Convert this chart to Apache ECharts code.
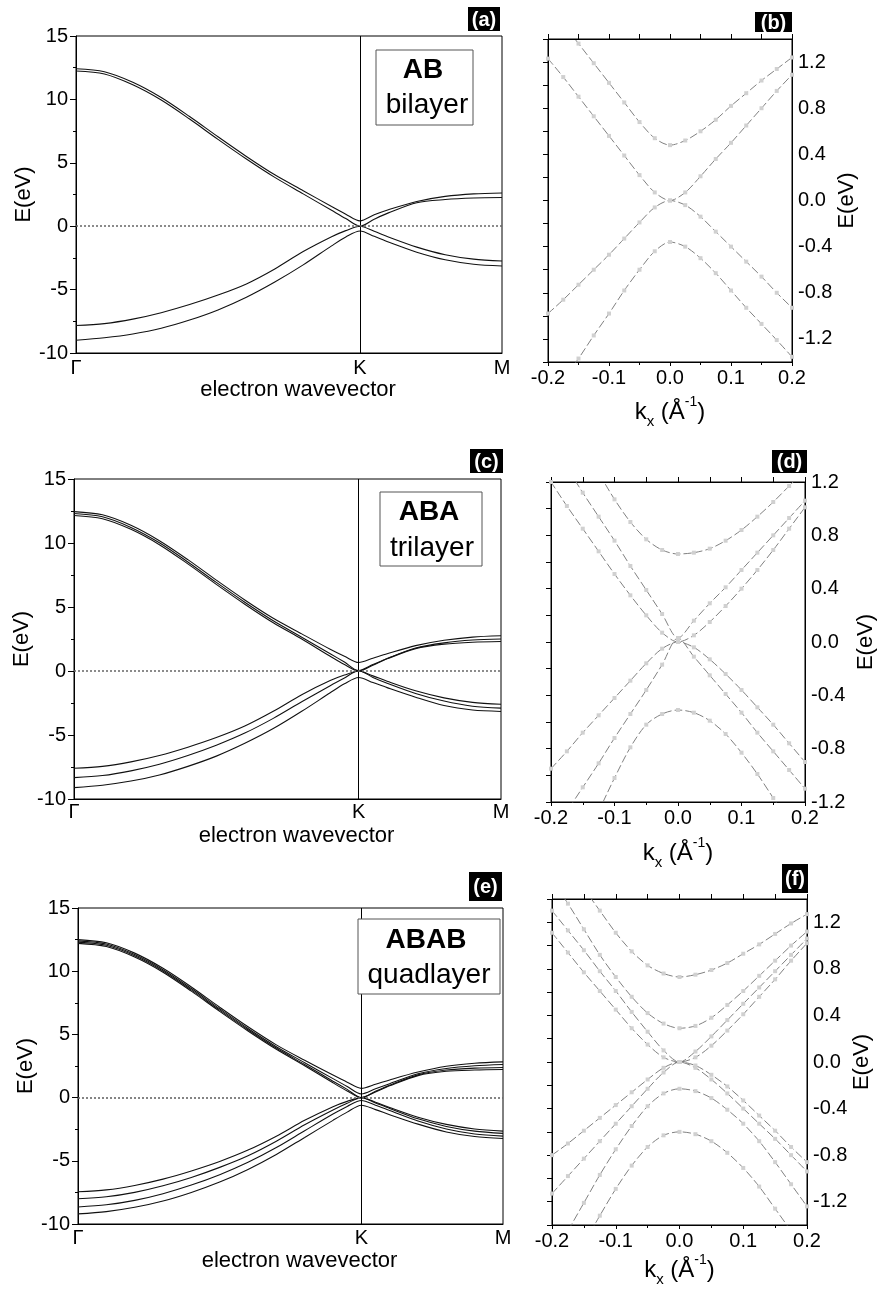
<!DOCTYPE html>
<html><head><meta charset="utf-8">
<script src="https://cdn.jsdelivr.net/npm/echarts@6/dist/echarts.min.js"></script>
<style>html,body{margin:0;padding:0;background:#fff}#c{width:878px;height:1300px}</style>
</head><body><div id="c"></div>
<script>
const FONT = '"Liberation Sans", Arial, Helvetica, sans-serif';

// ---- path Γ-K-M (Γ=0, K=1, M=1.5) ----
const pathX = [0,0.1,0.2,0.3,0.4,0.5,0.6,0.7,0.8,0.9,0.95,1.0,1.05,1.1,1.2,1.3,1.4,1.5];
const pathTickNames = ['Γ','K','M'];
const pathTickValues = [0,1,1.5];
const kPoint = 1;
const fermiLevel = 0;

// (a) AB bilayer
const abC2 = [12.42,12.18,11.35,10.15,8.65,7.05,5.5,4.05,2.8,1.55,0.95,0.42, 0.9,1.3,1.95,2.35,2.55,2.62];
const abC1 = [12.24,12.0,11.15,9.95,8.45,6.85,5.3,3.85,2.55,1.25,0.6,0.0, 0.55,1.05,1.85,2.1,2.22,2.26];
const abV1 = [-7.83,-7.68,-7.33,-6.82,-6.18,-5.43,-4.55,-3.37,-2.0,-0.83,-0.35,0.0, -0.4,-0.85,-1.65,-2.25,-2.6,-2.75];
const abV2 = [-9.0,-8.8,-8.5,-8.05,-7.4,-6.6,-5.6,-4.4,-3.05,-1.55,-0.85,-0.38, -0.8,-1.25,-2.05,-2.65,-3.0,-3.14];

// (c) ABA trilayer
const abaC3 = [12.45,12.2,11.38,10.18,8.7,7.1,5.55,4.12,2.9,1.7,1.15,0.66, 1.0,1.35,1.98,2.4,2.65,2.75];
const abaC2 = [12.3,12.05,11.22,10.02,8.52,6.92,5.37,3.92,2.64,1.35,0.7,0.03, 0.5,0.98,1.8,2.2,2.42,2.5];
const abaC1 = [12.15,11.9,11.07,9.87,8.37,6.77,5.22,3.77,2.5,1.15,0.5,0.0, 0.45,0.95,1.75,2.1,2.25,2.3];
const abaV1 = [-7.6,-7.45,-7.1,-6.6,-5.95,-5.2,-4.3,-3.15,-1.85,-0.75,-0.32,0.0, -0.38,-0.8,-1.55,-2.1,-2.45,-2.6];
const abaV2 = [-8.33,-8.17,-7.8,-7.28,-6.6,-5.8,-4.85,-3.7,-2.4,-1.15,-0.55,0.03, -0.5,-0.95,-1.75,-2.35,-2.75,-2.9];
const abaV3 = [-9.11,-8.92,-8.6,-8.12,-7.45,-6.65,-5.65,-4.5,-3.15,-1.7,-1.0,-0.51, -0.9,-1.3,-2.05,-2.7,-3.05,-3.16];

// (e) ABAB quadlayer
const ababC4 = [12.5,12.25,11.43,10.23,8.75,7.15,5.6,4.17,2.95,1.78,1.22,0.73, 1.05,1.4,2.02,2.48,2.72,2.83];
const ababC3 = [12.4,12.15,11.32,10.12,8.63,7.03,5.47,4.03,2.76,1.5,0.88,0.29, 0.7,1.1,1.88,2.3,2.52,2.62];
const ababC2 = [12.3,12.05,11.22,10.02,8.52,6.92,5.37,3.92,2.62,1.3,0.65,0.0, 0.5,0.98,1.8,2.18,2.33,2.38];
const ababC1 = [12.2,11.95,11.12,9.92,8.42,6.82,5.27,3.82,2.52,1.17,0.52,0.0, 0.45,0.93,1.74,2.08,2.18,2.22];
const ababV1 = [-7.45,-7.3,-6.95,-6.45,-5.8,-5.05,-4.15,-3.05,-1.8,-0.72,-0.3,0.0, -0.36,-0.78,-1.55,-2.12,-2.48,-2.65];
const ababV2 = [-8.0,-7.85,-7.5,-6.98,-6.32,-5.52,-4.6,-3.45,-2.15,-0.98,-0.45,0.0, -0.42,-0.86,-1.68,-2.28,-2.65,-2.83];
const ababV3 = [-8.65,-8.48,-8.13,-7.6,-6.92,-6.1,-5.12,-3.95,-2.62,-1.3,-0.7,-0.23, -0.6,-1.02,-1.85,-2.48,-2.88,-3.05];
const ababV4 = [-9.2,-9.02,-8.68,-8.18,-7.5,-6.68,-5.68,-4.5,-3.15,-1.8,-1.15,-0.6, -0.95,-1.35,-2.1,-2.72,-3.08,-3.23];

// ---- low-energy kx (1/Å) ----
const kx = [-0.2,-0.175,-0.15,-0.125,-0.1,-0.075,-0.05,-0.025,0,0.025,0.05,0.075,0.1,0.125,0.15,0.175,0.2];

// (b)
const bC2 = [1.69,1.53,1.36,1.19,1.02,0.85,0.68,0.54,0.48,0.52,0.60,0.70,0.82,0.93,1.04,1.14,1.24];
const bC1 = [1.23,1.07,0.90,0.73,0.56,0.39,0.22,0.07,0.0,0.07,0.21,0.36,0.50,0.65,0.80,0.95,1.09];
const bV1 = [-0.98,-0.86,-0.73,-0.60,-0.47,-0.33,-0.19,-0.06,0.0,-0.04,-0.14,-0.27,-0.40,-0.53,-0.66,-0.80,-0.93];
const bV2 = [-1.72,-1.55,-1.37,-1.17,-0.98,-0.78,-0.60,-0.44,-0.36,-0.40,-0.50,-0.63,-0.78,-0.93,-1.07,-1.21,-1.355];

// (d)
const dC2 = [1.90,1.69,1.48,1.27,1.07,0.90,0.77,0.69,0.66,0.67,0.70,0.76,0.84,0.94,1.05,1.17,1.29];
const dMc = [1.49,1.31,1.12,0.94,0.76,0.57,0.39,0.21,0.03,0.16,0.29,0.41,0.54,0.67,0.80,0.93,1.06];
const dC1 = [1.20,1.02,0.85,0.68,0.51,0.35,0.20,0.07,0.0,0.05,0.15,0.27,0.40,0.54,0.69,0.85,1.01];
const dV1 = [-0.95,-0.82,-0.68,-0.55,-0.42,-0.29,-0.16,-0.05,0.0,-0.04,-0.13,-0.24,-0.36,-0.49,-0.62,-0.76,-0.90];
const dMv = [-1.45,-1.27,-1.09,-0.91,-0.72,-0.54,-0.36,-0.17,0.03,-0.11,-0.25,-0.39,-0.53,-0.68,-0.82,-0.96,-1.10];
const dV2 = [-2.02,-1.77,-1.52,-1.27,-1.02,-0.79,-0.62,-0.54,-0.51,-0.53,-0.59,-0.69,-0.83,-0.99,-1.17,-1.35,-1.53];

// (f)
const fC4 = [1.89,1.69,1.49,1.30,1.11,0.95,0.83,0.76,0.73,0.75,0.79,0.85,0.93,1.01,1.10,1.19,1.27];
const fC3 = [1.56,1.36,1.14,0.92,0.73,0.56,0.42,0.33,0.29,0.31,0.38,0.49,0.61,0.74,0.87,1.00,1.12];
const fC2 = [1.30,1.13,0.96,0.78,0.61,0.43,0.26,0.10,0.0,0.09,0.22,0.36,0.50,0.64,0.78,0.92,1.06];
const fC1 = [1.11,0.94,0.77,0.61,0.45,0.29,0.15,0.04,0.0,0.04,0.14,0.27,0.41,0.56,0.71,0.87,1.02];
const fV1 = [-0.80,-0.70,-0.59,-0.48,-0.37,-0.26,-0.15,-0.05,0.0,-0.03,-0.11,-0.21,-0.33,-0.46,-0.59,-0.73,-0.86];
const fV2 = [-1.13,-0.98,-0.83,-0.68,-0.53,-0.38,-0.23,-0.09,0.0,-0.05,-0.15,-0.27,-0.40,-0.53,-0.66,-0.80,-0.94];
const fV3 = [-1.69,-1.45,-1.21,-0.97,-0.75,-0.55,-0.38,-0.27,-0.23,-0.25,-0.31,-0.41,-0.53,-0.68,-0.86,-1.05,-1.24];
const fV4 = [-2.04,-1.80,-1.56,-1.32,-1.09,-0.89,-0.73,-0.63,-0.60,-0.62,-0.68,-0.78,-0.91,-1.07,-1.26,-1.45,-1.64];

const panelTags = ['(a)','(b)','(c)','(d)','(e)','(f)'];
const stackNames = [['AB','bilayer'],['ABA','trilayer'],['ABAB','quadlayer']];

// ---------------- build ----------------
const fmt1 = v => (Math.abs(v) < 1e-9 ? 0 : v).toFixed(1);
const fmtEvery04 = v => { const r = Math.round(v / 0.4); return Math.abs(r * 0.4 - v) < 1e-6 ? fmt1(r * 0.4) : ''; };
const pathLabel = v => { for (let i = 0; i < pathTickValues.length; i++) if (Math.abs(v - pathTickValues[i]) < 1e-9) return pathTickNames[i]; return ''; };

const black = {color:'#000', width:1};
const panels = [
  {kind:'path', grid:{left:76, top:36, width:426, height:317}, bands:[abC2,abC1,abV1,abV2], lblMargin:5, nameGap:24, yNameGap:38},
  {kind:'low', grid:{left:548, top:39, width:244, height:323}, bands:[bC2,bC1,bV1,bV2], yMin:-1.4, yMax:1.4, yLabInt:0.2, yFmt:fmtEvery04, nameGap:33, yNameGap:43},
  {kind:'path', grid:{left:74, top:479, width:427, height:320}, bands:[abaC3,abaC2,abaC1,abaV1,abaV2,abaV3], lblMargin:3, nameGap:26, yNameGap:38},
  {kind:'low', grid:{left:551, top:482, width:256, height:320}, bands:[dC2,dMc,dC1,dV1,dMv,dV2], yMin:-1.2, yMax:1.2, yLabInt:0.4, yFmt:fmt1, nameGap:34, yNameGap:50},
  {kind:'path', grid:{left:78, top:908, width:425, height:316}, bands:[ababC4,ababC3,ababC2,ababC1,ababV1,ababV2,ababV3,ababV4], lblMargin:4, nameGap:26, yNameGap:39},
  {kind:'low', grid:{left:552, top:899, width:255, height:326}, bands:[fC4,fC3,fC2,fC1,fV1,fV2,fV3,fV4], yMin:-1.4, yMax:1.4, yLabInt:0.2, yFmt:fmtEvery04, nameGap:28, yNameGap:41}
];

const option = {animation:false, backgroundColor:'#fff', textStyle:{fontFamily:FONT, color:'#000'},
  grid:[], xAxis:[], yAxis:[], series:[], graphic:[]};

panels.forEach(p => {
  const gi = option.grid.length;
  option.grid.push(Object.assign({show:true, borderColor:'#000', borderWidth:1, backgroundColor:'rgba(0,0,0,0)', containLabel:false}, p.grid));
  if (p.kind === 'path') {
    const xi = option.xAxis.length;
    option.xAxis.push({gridIndex:gi, type:'value', min:0, max:1.5, interval:0.5, position:'bottom',
      axisLine:{show:true, onZero:false, lineStyle:black}, axisTick:{show:false}, splitLine:{show:false},
      axisLabel:{fontSize:20, color:'#000', fontFamily:FONT, margin:p.lblMargin, showMinLabel:true, showMaxLabel:true, formatter:pathLabel},
      name:'electron wavevector', nameLocation:'middle', nameGap:p.nameGap,
      nameTextStyle:{fontSize:22, color:'#000', fontFamily:FONT, padding:[0,0,0,18]}});
    const yi = option.yAxis.length;
    option.yAxis.push({gridIndex:gi, type:'value', min:-10, max:15, interval:5, position:'left',
      axisLine:{show:true, onZero:false, lineStyle:black}, axisTick:{show:true, inside:false, length:6, lineStyle:black},
      minorTick:{show:true, splitNumber:2, length:3, lineStyle:black}, splitLine:{show:false}, minorSplitLine:{show:false},
      axisLabel:{fontSize:20, color:'#000', fontFamily:FONT, margin:8, showMinLabel:true, showMaxLabel:true},
      name:'E(eV)', nameLocation:'middle', nameGap:p.yNameGap, nameTextStyle:{fontSize:22, color:'#000', fontFamily:FONT}});
    p.bands.forEach((b, j) => {
      const s = {type:'line', xAxisIndex:xi, yAxisIndex:yi, data:pathX.map((x, i) => [x, b[i]]),
        smooth:0.3, showSymbol:false, silent:true, lineStyle:{color:'#111', width:1.1}, z:3};
      if (j === 0) {
        s.markLine = {silent:true, symbol:['none','none'], label:{show:false}, animation:false,
          data:[{xAxis:kPoint, lineStyle:{color:'#000', width:1, type:'solid'}},
                {yAxis:fermiLevel, lineStyle:{color:'#666', width:1.6, type:[2,2]}}]};
      }
      option.series.push(s);
    });
  } else {
    const xi = option.xAxis.length;
    option.xAxis.push({gridIndex:gi, type:'value', min:-0.2, max:0.2, interval:0.1, position:'bottom',
      axisLine:{show:true, onZero:false, lineStyle:black}, axisTick:{show:true, length:4, lineStyle:black},
      minorTick:{show:true, splitNumber:2, length:3, lineStyle:black}, splitLine:{show:false}, minorSplitLine:{show:false},
      axisLabel:{fontSize:20, color:'#000', fontFamily:FONT, margin:6, showMinLabel:true, showMaxLabel:true, formatter:fmt1},
      name:'{k|k}{s|x}{k| (Å}{p|-1}{k|)}', nameLocation:'middle', nameGap:p.nameGap,
      nameTextStyle:{rich:{
        k:{fontSize:24, color:'#000', fontFamily:FONT, lineHeight:34, verticalAlign:'middle'},
        s:{fontSize:15, color:'#000', fontFamily:FONT, lineHeight:14, verticalAlign:'bottom'},
        p:{fontSize:14, color:'#000', fontFamily:FONT, lineHeight:14, verticalAlign:'top'}}}});
    option.xAxis.push({gridIndex:gi, type:'value', min:-0.2, max:0.2, interval:0.05, position:'top',
      axisLine:{show:true, onZero:false, lineStyle:black}, axisTick:{show:true, length:5, lineStyle:black},
      axisLabel:{show:false}, splitLine:{show:false}});
    const yi = option.yAxis.length;
    option.yAxis.push({gridIndex:gi, type:'value', min:p.yMin, max:p.yMax, interval:0.2, position:'left',
      axisLine:{show:true, onZero:false, lineStyle:black}, axisTick:{show:true, length:5, lineStyle:black},
      axisLabel:{show:false}, splitLine:{show:false}});
    option.yAxis.push({gridIndex:gi, type:'value', min:p.yMin, max:p.yMax, interval:p.yLabInt, position:'right',
      axisLine:{show:true, onZero:false, lineStyle:black}, axisTick:{show:false}, splitLine:{show:false},
      axisLabel:{fontSize:20, color:'#000', fontFamily:FONT, margin:6, showMinLabel:true, showMaxLabel:true, formatter:p.yFmt},
      name:'E(eV)', nameLocation:'middle', nameRotate:90, nameGap:p.yNameGap,
      nameTextStyle:{fontSize:22, color:'#000', fontFamily:FONT}});
    p.bands.forEach(b => {
      option.series.push({type:'line', xAxisIndex:xi, yAxisIndex:yi, data:kx.map((x, i) => [x, b[i]]),
        smooth:0.3, clip:true, silent:true, showSymbol:true, symbol:'rect', symbolSize:4,
        itemStyle:{color:'#d0d0d0'}, lineStyle:{color:'#808080', width:1, type:[8,3]}, z:3});
    });
  }
});

// panel tags (black boxes)
const tagBoxes = [[468,7,32,24],[755,12,37,20],[470,449,33,24],[772,450,35,23],[469,872,33,29],[782,864,26,29]];
tagBoxes.forEach((r, i) => {
  option.graphic.push({type:'rect', z:50, silent:true, shape:{x:r[0], y:r[1], width:r[2], height:r[3]}, style:{fill:'#000'}});
  option.graphic.push({type:'text', z:51, silent:true, x:r[0] + r[2] / 2, y:r[1] + r[3] / 2 + 1,
    style:{text:panelTags[i], fill:'#fff', font:'bold 20px ' + FONT, align:'center', verticalAlign:'middle'}});
});

// stacking annotation boxes
const annoBoxes = [
  {rect:[376,50,97,75], cx1:423, y1:70, cx2:427, y2:105},
  {rect:[380,492,102,74], cx1:429, y1:512, cx2:432, y2:548},
  {rect:[358,919,142,75], cx1:426, y1:940, cx2:429, y2:975}
];
annoBoxes.forEach((a, i) => {
  option.graphic.push({type:'rect', z:60, silent:true, shape:{x:a.rect[0], y:a.rect[1], width:a.rect[2], height:a.rect[3]},
    style:{fill:'#fff', stroke:'#555', lineWidth:1}});
  option.graphic.push({type:'text', z:61, silent:true, x:a.cx1, y:a.y1,
    style:{text:stackNames[i][0], fill:'#000', font:'bold 28px ' + FONT, align:'center', verticalAlign:'middle'}});
  option.graphic.push({type:'text', z:61, silent:true, x:a.cx2, y:a.y2,
    style:{text:stackNames[i][1], fill:'#000', font:'28px ' + FONT, align:'center', verticalAlign:'middle'}});
});

const chart = echarts.init(document.getElementById('c'), null, {renderer:'canvas', width:878, height:1300});
chart.setOption(option);
</script></body></html>
